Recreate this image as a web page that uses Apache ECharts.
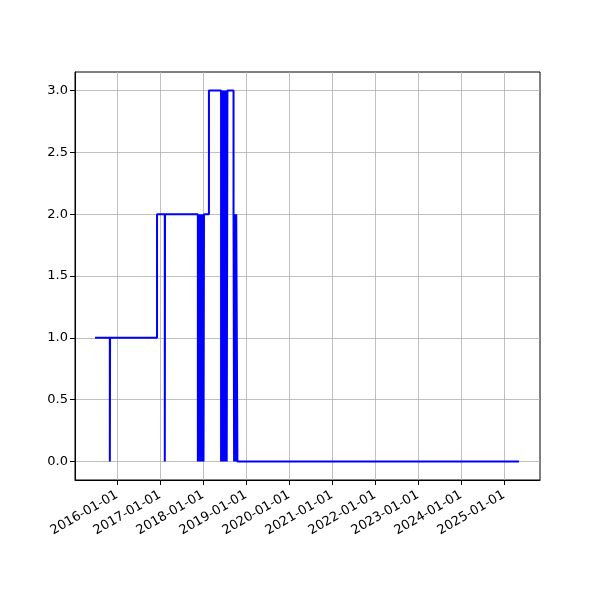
<!DOCTYPE html>
<html>
<head>
<meta charset="utf-8">
<script src="https://cdn.jsdelivr.net/npm/echarts@6/dist/echarts.min.js"></script>
<style>html,body{margin:0;padding:0;background:#fff}#c{width:600px;height:600px}</style>
</head>
<body>
<div id="c"></div>
<script>
// change points of the step series (value holds until the next date)
var dates = [
  '2015-06-28','2015-11-01','2015-11-03',
  '2016-12-06','2017-02-10','2017-02-12',
  '2017-11-18','2017-11-22','2017-11-26','2017-11-30','2017-12-04','2017-12-08','2017-12-12',
  '2017-12-16','2017-12-20','2017-12-24','2017-12-28','2018-01-01','2018-01-05','2018-01-09',
  '2018-02-20',
  '2018-06-03','2018-06-07','2018-06-11','2018-06-15','2018-06-19','2018-06-23','2018-06-27',
  '2018-07-01','2018-07-05','2018-07-09','2018-07-13','2018-07-17','2018-07-21','2018-07-27',
  '2018-09-17','2018-09-22','2018-09-27','2018-10-04','2018-10-10','2018-10-20',
  '2025-05-09'
];
var values = [
  1,0,1,
  2,0,2,
  0,2,0,2,0,2,0,
  2,0,2,0,2,0,2,
  3,
  0,3,0,3,0,3,0,
  3,0,3,0,3,0,3,
  2,0,2,0,2,0,
  0
];
var xTickLabels = ['2016-01-01','2017-01-01','2018-01-01','2019-01-01','2020-01-01',
                   '2021-01-01','2022-01-01','2023-01-01','2024-01-01','2025-01-01'];
var yTickValues = [0, 0.5, 1, 1.5, 2, 2.5, 3];

var xTicks = xTickLabels.map(function (s) { return Date.parse(s); });
var seriesData = dates.map(function (d, i) { return [Date.parse(d), values[i]]; });

function fmtDate(v) {
  var d = new Date(v);
  var p = function (n) { return (n < 10 ? '0' : '') + n; };
  return d.getUTCFullYear() + '-' + p(d.getUTCMonth() + 1) + '-' + p(d.getUTCDate());
}

var font = 'DejaVu Sans';
var chart = echarts.init(document.getElementById('c'), null, {renderer: 'canvas'});
chart.setOption({
  animation: false,
  backgroundColor: '#ffffff',
  grid: {left: 75, right: 60, top: 72, bottom: 120, show: true, borderColor: '#000', borderWidth: 1,
         backgroundColor: 'transparent', containLabel: false, outerBoundsMode: 'none'},
  xAxis: {
    type: 'value',
    scale: true,
    min: Date.parse('2015-01-09'),
    max: Date.parse('2025-11-03'),
    axisLine: {show: true, onZero: false, lineStyle: {color: '#000', width: 1}},
    axisTick: {show: true, customValues: xTicks, length: 5, lineStyle: {color: '#000', width: 1}},
    axisLabel: {customValues: xTicks, rotate: 30, margin: 14, color: '#000', fontFamily: font, fontSize: 13,
                formatter: function (v) { return fmtDate(v); }},
    splitLine: {show: true, lineStyle: {color: '#b0b0b0', width: 0.8}}
  },
  yAxis: {
    type: 'value',
    min: -0.15,
    max: 3.15,
    axisLine: {show: true, onZero: false, lineStyle: {color: '#000', width: 1}},
    axisTick: {show: true, customValues: yTickValues, length: 5, lineStyle: {color: '#000', width: 1}},
    axisLabel: {customValues: yTickValues, margin: 7, color: '#000', fontFamily: font, fontSize: 13,
                formatter: function (v) { return v.toFixed(1); }},
    splitLine: {show: true, lineStyle: {color: '#b0b0b0', width: 0.8}}
  },
  series: [{
    type: 'line',
    step: 'end',
    showSymbol: false,
    symbol: 'none',
    data: seriesData,
    lineStyle: {color: '#0000ff', width: 2},
    z: 5
  }]
});
</script>
</body>
</html>
